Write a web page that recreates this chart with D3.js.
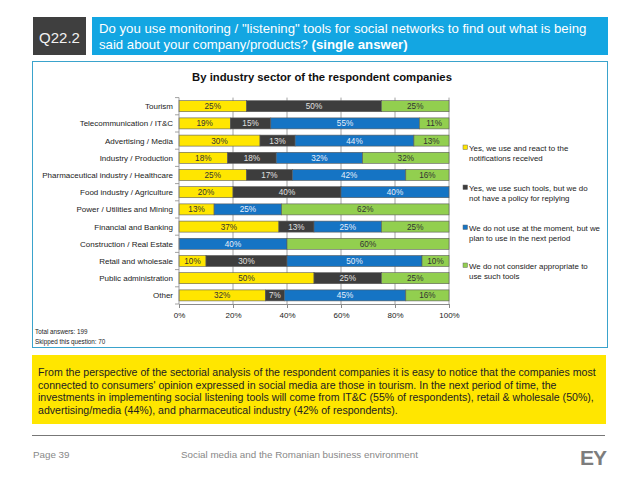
<!DOCTYPE html>
<html>
<head>
<meta charset="utf-8">
<script src="https://cdn.jsdelivr.net/npm/d3@7"></script>
<style>
  body { margin: 0; background: #fff; }
  svg { display: block; font-family: "Liberation Sans", Arial, sans-serif; }
</style>
</head>
<body>
<script>
// data
let categories = ["Tourism", "Telecommunication / IT&C", "Advertising / Media", "Industry / Production",
  "Pharmaceutical industry / Healthcare", "Food industry / Agriculture", "Power / Utilities and Mining",
  "Financial and Banking", "Construction / Real Estate", "Retail and wholesale", "Public administration", "Other"];

let useReact   = [25, 19, 30, 18, 25, 20, 13, 37, 0, 10, 50, 32];
let useNoPolicy = [50, 15, 13, 18, 17, 40, 0, 13, 0, 30, 25, 7];
let planToUse  = [0, 55, 44, 32, 42, 40, 25, 25, 40, 50, 0, 45];
let notAppropriate = [25, 11, 13, 32, 16, 0, 62, 25, 60, 10, 25, 16];

let seriesNames = [
  ["Yes, we use and react to the", "notifications received"],
  ["Yes, we use such tools, but we do", "not have a policy for replying"],
  ["We do not use at the moment, but we", "plan to use in the next period"],
  ["We do not consider appropriate to", "use such tools"]
];
let xTicks = [0, 20, 40, 60, 80, 100];

let colors = ["#ffe600", "#3d3d3d", "#1574c4", "#92cf4f"];
let labelColors = ["#333", "#e0e0e0", "#e6eefa", "#333"];

let width = 638, height = 479;

let svg = d3.select("body").append("svg")
  .attr("width", width)
  .attr("height", height);

// header boxes
svg.append("rect").attr("x", 33).attr("y", 17).attr("width", 53).attr("height", 38).attr("fill", "#3f3f3f");
svg.append("text").attr("x", 59.5).attr("y", 43).attr("text-anchor", "middle")
  .attr("fill", "#f2f2f2").style("font-size", "15px").text("Q22.2");

svg.append("rect").attr("x", 92).attr("y", 17).attr("width", 516).attr("height", 38).attr("fill", "#13a6e2");
svg.append("text").attr("x", 99).attr("y", 33).attr("fill", "#fff").style("font-size", "13.2px")
  .text("Do you use monitoring / \"listening\" tools for social networks to find out what is being");
let q2 = svg.append("text").attr("x", 99).attr("y", 49).attr("fill", "#fff").style("font-size", "13.2px");
q2.append("tspan").text("said about your company/products? ");
q2.append("tspan").attr("font-weight", "bold").text("(single answer)");

// chart frame
svg.append("rect").attr("x", 32.5).attr("y", 61.5).attr("width", 575).attr("height", 286)
  .attr("fill", "none").attr("stroke", "#3aa3cc").attr("stroke-width", 1);

svg.append("text").attr("x", 322).attr("y", 81).attr("text-anchor", "middle")
  .attr("font-weight", "bold").attr("fill", "#111").style("font-size", "11.3px")
  .text("By industry sector of the respondent companies");

// scales
let x = d3.scaleLinear().domain([0, 100]).range([179, 449]);
let y = d3.scaleBand().domain(categories).range([97.6, 304]).paddingInner(0.36).paddingOuter(0.18);

let rows = categories.map((c, i) => ({
  cat: c, s0: useReact[i], s1: useNoPolicy[i], s2: planToUse[i], s3: notAppropriate[i]
}));
let stack = d3.stack().keys(["s0", "s1", "s2", "s3"]);
let stacked = stack(rows);

// gridlines
let g = svg.append("g");
g.selectAll(".grid").data(xTicks.slice(1)).enter().append("line")
  .attr("x1", d => x(d)).attr("x2", d => x(d))
  .attr("y1", y.range()[0]).attr("y2", y.range()[1])
  .attr("stroke", "#8a8a8a").attr("stroke-width", 0.8);

// bars
stacked.forEach((layer, k) => {
  let lg = g.append("g");
  lg.selectAll("rect").data(layer.filter(d => d[1] - d[0] > 0)).enter().append("rect")
    .attr("x", d => x(d[0]))
    .attr("y", d => y(d.data.cat))
    .attr("width", d => x(d[1]) - x(d[0]))
    .attr("height", y.bandwidth())
    .attr("fill", colors[k])
    .attr("stroke", "#5a5a5a")
    .attr("stroke-width", 0.6);
  lg.selectAll("text").data(layer.filter(d => d[1] - d[0] > 0)).enter().append("text")
    .attr("x", d => (x(d[0]) + x(d[1])) / 2)
    .attr("y", d => y(d.data.cat) + y.bandwidth() / 2 + 3)
    .attr("text-anchor", "middle")
    .attr("fill", labelColors[k])
    .style("font-size", "8.2px")
    .text(d => (d[1] - d[0]) + "%");
});

// x axis
let xAxis = d3.axisBottom(x).tickValues(xTicks).tickSize(4).tickFormat(d => d + "%");
let xg = svg.append("g").attr("transform", "translate(0," + y.range()[1] + ")").call(xAxis);
xg.select(".domain").attr("stroke", "#8a8a8a");
xg.selectAll(".tick line").attr("stroke", "#8a8a8a");
xg.selectAll(".tick text").attr("fill", "#222").style("font-size", "8px")
  .style("font-family", "Liberation Sans, Arial, sans-serif").attr("dy", "0.9em");

// y axis line + category labels
svg.append("line").attr("x1", x(0)).attr("x2", x(0)).attr("y1", y.range()[0]).attr("y2", y.range()[1])
  .attr("stroke", "#8a8a8a").attr("stroke-width", 0.8);
let bounds = categories.map(c => y(c) - y.step() * y.paddingInner() / 2).concat([y.range()[1]]);
svg.selectAll(".ytick").data(bounds).enter().append("line")
  .attr("x1", x(0) - 4).attr("x2", x(0)).attr("y1", d => d).attr("y2", d => d)
  .attr("stroke", "#8a8a8a").attr("stroke-width", 0.8);
svg.selectAll(".cat").data(categories).enter().append("text")
  .attr("x", 173).attr("y", d => y(d) + y.bandwidth() / 2 + 3)
  .attr("text-anchor", "end").attr("fill", "#222").style("font-size", "8px")
  .text(d => d);

// legend
let legendY = [148, 188, 228, 266];
seriesNames.forEach((lines, k) => {
  let lgd = svg.append("g").attr("transform", "translate(463," + legendY[k] + ")");
  lgd.append("rect").attr("x", 0).attr("y", -3).attr("width", 4.5).attr("height", 4.5)
    .attr("fill", colors[k]).attr("stroke", "#666").attr("stroke-width", 0.5);
  lines.forEach((t, j) => {
    lgd.append("text").attr("x", 6).attr("y", 2.5 + j * 10.5).attr("fill", "#222")
      .style("font-size", "7.9px").text(t);
  });
});

// notes
svg.append("text").attr("x", 35).attr("y", 334).attr("fill", "#222").style("font-size", "6.3px").text("Total answers: 199");
svg.append("text").attr("x", 35).attr("y", 344).attr("fill", "#222").style("font-size", "6.3px").text("Skipped this question: 70");

// yellow commentary box
svg.append("rect").attr("x", 32).attr("y", 355).attr("width", 574).attr("height", 69).attr("fill", "#ffe600");
let comment = [
  "From the perspective of the sectorial analysis of the respondent companies it is easy to notice that the companies most",
  "connected to consumers' opinion expressed in social media are those in tourism. In the next period of time, the",
  "investments in implementing social listening tools will come from IT&C (55% of respondents), retail & wholesale (50%),",
  "advertising/media (44%), and pharmaceutical industry (42% of respondents)."
];
svg.selectAll(".cm").data(comment).enter().append("text")
  .attr("x", 38).attr("y", (d, i) => 376 + i * 12.7)
  .attr("fill", "#222").style("font-size", "10.6px").text(d => d);

// footer
svg.append("line").attr("x1", 32).attr("x2", 605).attr("y1", 435.5).attr("y2", 435.5)
  .attr("stroke", "#777").attr("stroke-width", 1);
svg.append("text").attr("x", 33).attr("y", 458).attr("fill", "#888").style("font-size", "9.8px").text("Page 39");
svg.append("text").attr("x", 181).attr("y", 458).attr("fill", "#888").style("font-size", "9.8px")
  .text("Social media and the Romanian business environment");
svg.append("text").attr("x", 606).attr("y", 464.5).attr("text-anchor", "end").attr("fill", "#7d7d7d")
  .attr("font-weight", "bold").style("font-size", "21px").style("letter-spacing", "-1px").text("EY");
</script>
</body>
</html>
